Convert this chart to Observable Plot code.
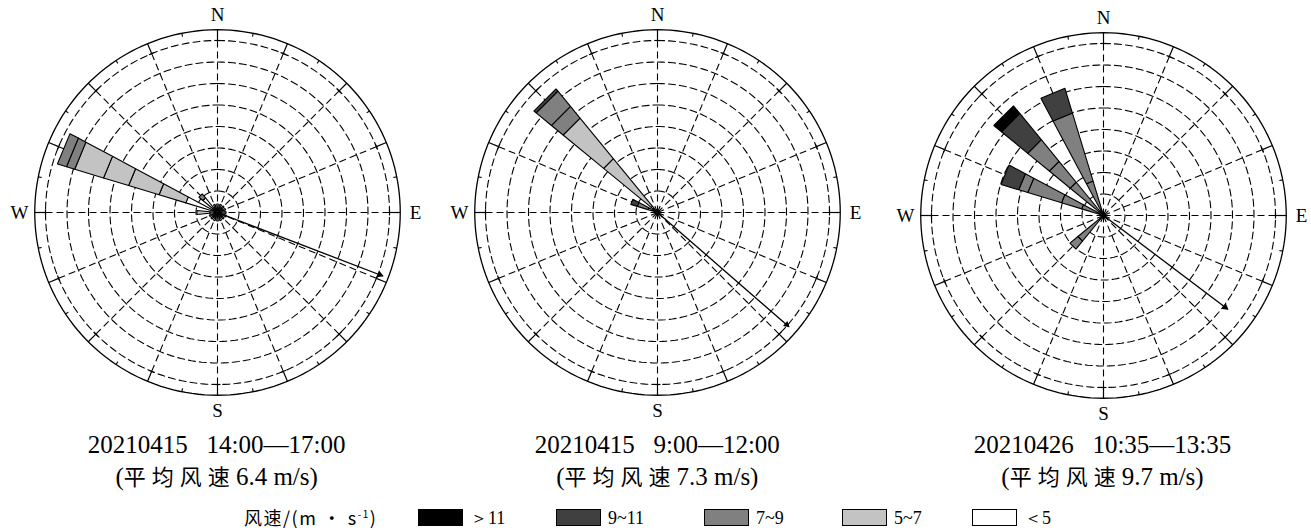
<!DOCTYPE html>
<html><head><meta charset="utf-8">
<script src="https://cdn.jsdelivr.net/npm/d3@7"></script>
<script src="https://cdn.jsdelivr.net/npm/@observablehq/plot@0.6"></script>
<style>
html,body{margin:0;padding:0;background:#fff;}
#root{position:relative;width:1311px;height:530px;overflow:hidden;background:#fff;}
.panel{position:absolute;}
.ttl{position:absolute;transform:translateX(-50%);white-space:pre;font-family:"Liberation Serif","Noto Sans CJK SC",serif;font-size:25px;color:#000;line-height:1;}
.cjk{letter-spacing:6px;font-family:"Noto Sans CJK SC",sans-serif;font-size:22px;}
.legend{position:absolute;top:507px;left:0;width:1311px;height:22px;color:#000;}
.legend .sw{position:absolute;top:2px;width:45px;height:17px;border:1px solid #000;box-sizing:border-box;}
.legend .lab{position:absolute;top:1px;font-family:"Liberation Serif",serif;font-size:18px;line-height:20px;}
.legend .head{position:absolute;top:0px;font-family:"Noto Sans CJK SC",sans-serif;font-size:18px;line-height:21px;letter-spacing:1.5px;white-space:pre;}
.legend sup{font-size:10px;line-height:0;vertical-align:7px;}
</style></head>
<body><div id="root"></div>
<script>
// ---------------- data ----------------
const classes = [">11", "9~11", "7~9", "5~7", "<5"];
const classLabels = ["＞11", "9~11", "7~9", "5~7", "＜5"];
const classColors = ["#000000", "#404040", "#808080", "#c3c3c3", "#ffffff"];
const compassLabels = ["N", "E", "S", "W"];
const compassBearings = [0, 90, 180, 270];
const sectorBearings = [0, 22.5, 45, 67.5, 90, 112.5, 135, 157.5, 180, 202.5, 225, 247.5, 270, 292.5, 315, 337.5];
const ringValues = [5, 10, 15, 20, 25, 30, 35, 40];   // frequency rings (%)
const frameValue = 42.5;
const titles = ["20210415   14:00—17:00", "20210415   9:00—12:00", "20210426   10:35—13:35"];
const meanSpeeds = [6.4, 7.3, 9.7];
const arrowBearings = [111, 131, 127];
const arrowLengths = [41.2, 40.5, 36.2];

// petals: direction (deg from N), speed class of each stacked segment, cumulative frequency
const petals1 = [
  {dir: 292.5, cls: ["<5", "5~7", "5~7", "5~7", "5~7", "7~9", "7~9"], cum: [7.7, 14.2, 21.6, 27.7, 34.7, 36.7, 38.9]},
  {dir: 315, cls: ["<5", "7~9"], cum: [4.4, 5.6]},
  {dir: 270, cls: ["<5", "5~7"], cum: [1.8, 4.8]},
  {dir: 0, cls: ["<5"], cum: [2.0]},
  {dir: 22.5, cls: ["<5"], cum: [2.0]},
  {dir: 45, cls: ["<5"], cum: [2.0]},
  {dir: 67.5, cls: ["<5"], cum: [2.0]},
  {dir: 90, cls: ["<5"], cum: [2.0]},
  {dir: 112.5, cls: ["<5"], cum: [2.2]},
  {dir: 135, cls: ["<5"], cum: [2.0]},
  {dir: 157.5, cls: ["<5"], cum: [2.0]},
  {dir: 180, cls: ["<5"], cum: [2.0]},
  {dir: 202.5, cls: ["<5"], cum: [2.0]},
  {dir: 225, cls: ["<5"], cum: [2.0]},
  {dir: 247.5, cls: ["<5"], cum: [2.0]},
  {dir: 337.5, cls: ["<5"], cum: [2.0]}
];
const petals2 = [
  {dir: 315, cls: ["<5", "5~7", "5~7", "7~9", "7~9", "9~11"], cum: [1.9, 16.2, 28.4, 31.9, 36.5, 37.2]},
  {dir: 292.5, cls: ["<5", "7~9", "9~11"], cum: [2.3, 4.9, 6.5]}
];
const petals3 = [
  {dir: 315, cls: ["<5", "7~9", "7~9", "7~9", "9~11", ">11"], cum: [0.6, 10.0, 16.3, 22.8, 30.7, 33.0]},
  {dir: 337.5, cls: ["<5", "7~9", "7~9", "9~11"], cum: [0.6, 8.4, 24.9, 30.9]},
  {dir: 292.5, cls: ["<5", "7~9", "7~9", "7~9", "7~9", "9~11"], cum: [0.6, 5.3, 10.2, 18.4, 20.6, 24.9]},
  {dir: 225, cls: ["<5", "7~9", "7~9"], cum: [0.6, 7.7, 10.1]}
];
const panelPetals = [petals1, petals2, petals3];

// ---------------- layout ----------------
const centersX = [216.7, 657.3, 1102.5];
const centersY = [212, 212, 215];
const PX = 21.5 / 5;            // pixels per % (ring spacing 21.5px)
const W = 440, H = 425, CY = 212;
const HALF = 5.625;             // half sector width (deg)

const rad = b => b * Math.PI / 180;
const px = (b, r) => r * Math.sin(rad(b));
const py = (b, r) => r * Math.cos(rad(b));

function circle(r, id) {
  return d3.range(0, 361, 2).map(t => ({id, x: px(t, r), y: py(t, r)}));
}

function petalPolys(petals) {
  const out = [];
  petals.forEach((p, pi) => {
    let prev = 0;
    p.cum.forEach((c, si) => {
      const id = pi + "-" + si, cls = p.cls[si];
      const pts = [[p.dir - HALF, prev], [p.dir - HALF, c], [p.dir + HALF, c], [p.dir + HALF, prev], [p.dir - HALF, prev]];
      pts.forEach(([b, r]) => out.push({id, cls, x: px(b, r), y: py(b, r)}));
      prev = c;
    });
  });
  return out;
}

function panel(i) {
  const rings = ringValues.flatMap((r, j) => circle(r, j));
  const frame = circle(frameValue, "f");
  const minorBearings = sectorBearings.map(b => b + 11.25);
  const capHalf = 3 / PX;
  const caps = sectorBearings.map(b => {
    const x = px(b, 40), y = py(b, 40);
    const tx = Math.cos(rad(b)), ty = -Math.sin(rad(b));
    return {x1: x - tx * capHalf, y1: y - ty * capHalf, x2: x + tx * capHalf, y2: y + ty * capHalf};
  });
  const ab = arrowBearings[i], al = arrowLengths[i];
  const headBack = 3 / PX;
  return Plot.plot({
    width: W, height: H, margin: 0,
    x: {domain: [-W / 2 / PX, W / 2 / PX], range: [0, W], axis: null},
    y: {domain: [-(H - CY) / PX, CY / PX], range: [H, 0], axis: null},
    color: {domain: classes, range: classColors},
    marks: [
      Plot.line(rings, {x: "x", y: "y", z: "id", stroke: "#000", strokeWidth: 1.1, strokeDasharray: "7,4"}),
      Plot.link(sectorBearings, {x1: 0, y1: 0, x2: b => px(b, 40), y2: b => py(b, 40), stroke: "#000", strokeWidth: 1.1, strokeDasharray: "7,4"}),
      Plot.line(frame, {x: "x", y: "y", stroke: "#000", strokeWidth: 1.3}),
      Plot.link(sectorBearings, {x1: b => px(b, 40), y1: b => py(b, 40), x2: b => px(b, frameValue), y2: b => py(b, frameValue), stroke: "#000", strokeWidth: 1.2}),
      Plot.link(caps, {x1: "x1", y1: "y1", x2: "x2", y2: "y2", stroke: "#000", strokeWidth: 1.2}),
      Plot.link(minorBearings, {x1: b => px(b, 41.7), y1: b => py(b, 41.7), x2: b => px(b, frameValue), y2: b => py(b, frameValue), stroke: "#000", strokeWidth: 1.1}),
      Plot.line(petalPolys(panelPetals[i]), {x: "x", y: "y", z: "id", fill: "cls", stroke: "#000", strokeWidth: 1.1, strokeLinejoin: "miter"}),
      Plot.link([ab], {x1: 0, y1: 0, x2: b => px(b, al), y2: b => py(b, al), stroke: "#000", strokeWidth: 1.3}),
      Plot.dot([ab], {x: b => px(b, al - headBack), y: b => py(b, al - headBack), symbol: "triangle2", r: 3.2, fill: "#000", stroke: "none", rotate: b => b}),
      Plot.text(compassBearings, {x: b => px(b, 46.05), y: b => py(b, 46.05), text: (b, j) => compassLabels[j], fontSize: 19, fontFamily: "Liberation Serif", fill: "#000"})
    ]
  });
}

const root = document.getElementById("root");
for (let i = 0; i < 3; i++) {
  const svg = panel(i);
  svg.classList.add("panel");
  svg.style.left = (centersX[i] - W / 2) + "px";
  svg.style.top = (centersY[i] - CY) + "px";
  root.appendChild(svg);

  const t = document.createElement("div");
  t.className = "ttl";
  t.style.left = centersX[i] + "px";
  t.style.top = "432px";
  t.textContent = titles[i];
  root.appendChild(t);

  const s = document.createElement("div");
  s.className = "ttl";
  s.style.left = centersX[i] + "px";
  s.style.top = "464px";
  s.innerHTML = '(<span class="cjk">平均风速</span>' + meanSpeeds[i] + ' m/s)';
  root.appendChild(s);
}

// legend
const legend = document.createElement("div");
legend.className = "legend";
const head = document.createElement("div");
head.className = "head";
head.style.left = "244px";
head.innerHTML = '风速/(m · s<sup>-1</sup>)';
legend.appendChild(head);
const swatchLeft = [418, 556, 704, 842, 972];
classes.forEach((c, j) => {
  const sw = document.createElement("div");
  sw.className = "sw";
  sw.style.left = swatchLeft[j] + "px";
  sw.style.background = classColors[j];
  legend.appendChild(sw);
  const lab = document.createElement("div");
  lab.className = "lab";
  lab.style.left = (swatchLeft[j] + 52) + "px";
  lab.textContent = classLabels[j];
  legend.appendChild(lab);
});
root.appendChild(legend);
</script>
</body></html>
